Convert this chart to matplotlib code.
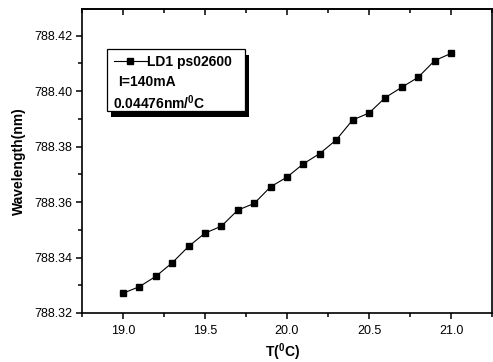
import numpy as np
import matplotlib
matplotlib.use("Agg")
import matplotlib.pyplot as plt
from matplotlib.patches import Rectangle
from matplotlib.ticker import MultipleLocator

plt.rcParams['font.family'] = ['Liberation Sans', 'DejaVu Sans']
plt.rcParams['mathtext.fontset'] = 'custom'
plt.rcParams['mathtext.rm'] = 'Liberation Sans:bold'
plt.rcParams['mathtext.bf'] = 'Liberation Sans:bold'

temperature = [19.0, 19.1, 19.2, 19.3, 19.4, 19.5, 19.6, 19.7, 19.8, 19.9, 20.0,
               20.1, 20.2, 20.3, 20.4, 20.5, 20.6, 20.7, 20.8, 20.9, 21.0]
wavelength = [788.3271, 788.3295, 788.3332, 788.3381, 788.3440, 788.3488, 788.3513,
              788.3571, 788.3595, 788.3655, 788.3690, 788.3738, 788.3775, 788.3824,
              788.3896, 788.3921, 788.3977, 788.4014, 788.4050, 788.4110, 788.4136]
series_label = "LD1 ps02600"
info_lines = ["I=140mA", r"0.04476nm/$^0$C"]

fig = plt.figure(figsize=(4.93, 3.62), dpi=100)
ax = fig.add_axes([0.1663, 0.1354, 0.8317, 0.8396])

line, = ax.plot(temperature, wavelength, color='black', lw=0.8,
                marker='s', markersize=4.2, label=series_label)

ax.set_xlim(18.75, 21.25)
ax.set_ylim(788.32, 788.4296)
ax.xaxis.set_major_locator(MultipleLocator(0.5))
ax.xaxis.set_minor_locator(MultipleLocator(0.25))
ax.yaxis.set_major_locator(MultipleLocator(0.02))
ax.yaxis.set_minor_locator(MultipleLocator(0.01))
ax.xaxis.set_major_formatter(plt.FormatStrFormatter('%.1f'))
ax.yaxis.set_major_formatter(plt.FormatStrFormatter('%.2f'))

for s in ax.spines.values():
    s.set_linewidth(1.2)
ax.tick_params(which='both', direction='out', width=1.1, labelsize=9,
               top=False, right=False)
ax.tick_params(which='major', length=4.5)
ax.tick_params(which='minor', length=3)
ax.tick_params(axis='x', which='both', pad=4)
ax.tick_params(axis='y', which='both', pad=2.5)

# inward ticks on the top edge
top = ax.secondary_xaxis('top')
top.xaxis.set_major_locator(MultipleLocator(0.5))
top.xaxis.set_minor_locator(MultipleLocator(0.25))
top.tick_params(which='both', direction='in', width=1.1, labeltop=False)
top.tick_params(which='major', length=4.5)
top.tick_params(which='minor', length=3)
top.spines['top'].set_linewidth(1.2)

ax.set_xlabel(r"T($^0$C)", fontsize=10, fontweight='bold')
ax.xaxis.set_label_coords(0.488, -0.128)
ax.xaxis.label.set_va('center')
ax.set_ylabel("Wavelength(nm)", fontsize=10, fontweight='bold', labelpad=6)

# legend box with drop shadow
shadow = Rectangle((0.061 + 0.0105, 0.664 - 0.0185), 0.3366, 0.204,
                   transform=ax.transAxes, facecolor='black', edgecolor='none',
                   zorder=3)
ax.add_patch(shadow)
box = Rectangle((0.061, 0.664), 0.3366, 0.204, transform=ax.transAxes,
                facecolor='white', edgecolor='black', lw=0.9, zorder=4)
ax.add_patch(box)
leg = ax.legend(handles=[line], loc='center left', bbox_to_anchor=(0.078, 0.826),
                frameon=False, fontsize=10, handlelength=2.35, handletextpad=0.05,
                borderpad=0, borderaxespad=0)
for t in leg.get_texts():
    t.set_fontweight('bold')
leg.set_zorder(5)
ax.text(0.088, 0.761, info_lines[0], transform=ax.transAxes, fontsize=10,
        fontweight='bold', va='center', zorder=5)
ax.text(0.075, 0.693, info_lines[1], transform=ax.transAxes, fontsize=10,
        fontweight='bold', va='center', zorder=5)

fig.savefig("out.png", dpi=100)
